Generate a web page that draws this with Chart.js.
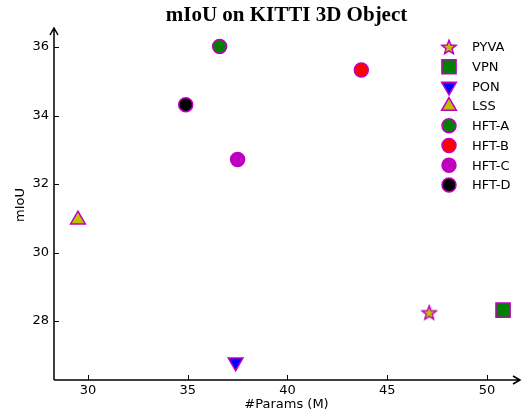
<!DOCTYPE html>
<html>
<head>
<meta charset="utf-8">
<script src="https://cdn.jsdelivr.net/npm/chart.js@4.4.1/dist/chart.umd.min.js"></script>
<style>
  html, body { margin: 0; padding: 0; background: #fff; }
  #wrap { width: 522px; height: 414px; }
</style>
</head>
<body>
<div id="wrap"><canvas id="chart" width="522" height="414"></canvas></div>
<script>
const methods = ['PYVA', 'VPN', 'PON', 'LSS', 'HFT-A', 'HFT-B', 'HFT-C', 'HFT-D'];
const params  = [47.1, 50.8, 37.4, 29.5, 36.6, 43.7, 37.5, 34.9];
const miou    = [28.25, 28.32, 26.8, 30.96, 36.02, 35.33, 32.72, 34.32];
const xTicks  = [30, 35, 40, 45, 50];
const yTicks  = [28, 30, 32, 34, 36];

const EDGE = '#bf00bf';
const fills  = ['#bfbf00', '#008000', '#0000ff', '#bfbf00', '#008000', '#ff0000', '#bf00bf', '#000000'];
const shapes = ['star', 'rect', 'tri-down', 'triangle', 'circle', 'circle', 'circle', 'circle'];

// filled five-point star, chart.js "star" is only a cross
function makeStar(fill) {
  const c = document.createElement('canvas');
  c.width = 18; c.height = 18;
  const g = c.getContext('2d');
  g.beginPath();
  for (let i = 0; i < 10; i++) {
    const r = i % 2 ? 3.2 : 7.5;
    const a = -Math.PI / 2 + i * Math.PI / 5;
    const px = 9 + r * Math.cos(a), py = 9.6 + r * Math.sin(a);
    i ? g.lineTo(px, py) : g.moveTo(px, py);
  }
  g.closePath();
  g.fillStyle = fill; g.fill();
  g.strokeStyle = EDGE; g.lineWidth = 1.4; g.stroke();
  return c;
}
const starImg = makeStar(fills[0]);

function styleFor(i) {
  const s = shapes[i];
  if (s === 'star') return { pointStyle: starImg, radius: 8, rotation: 0 };
  if (s === 'rect') return { pointStyle: 'rect', radius: 10, rotation: 0 };
  if (s === 'tri-down') return { pointStyle: 'triangle', radius: 8.5, rotation: 180 };
  if (s === 'triangle') return { pointStyle: 'triangle', radius: 8.5, rotation: 0 };
  return { pointStyle: 'circle', radius: 7, rotation: 0 };
}

const datasets = methods.map((m, i) => {
  const st = styleFor(i);
  return {
    label: m,
    data: [{ x: params[i], y: miou[i] }],
    backgroundColor: fills[i],
    borderColor: EDGE,
    borderWidth: 1.5,
    pointStyle: st.pointStyle,
    pointRadius: st.radius,
    pointHoverRadius: st.radius,
    pointRotation: st.rotation,
    clip: false
  };
});

function marker(ctx, i, x, y) {
  const st = styleFor(i);
  ctx.save();
  ctx.fillStyle = fills[i];
  ctx.strokeStyle = EDGE;
  ctx.lineWidth = 1.5;
  ctx.translate(x, y);
  ctx.rotate(st.rotation * Math.PI / 180);
  const r = st.radius;
  ctx.beginPath();
  if (st.pointStyle === starImg) {
    ctx.drawImage(starImg, -9, -9);
    ctx.restore();
    return;
  } else if (st.pointStyle === 'rect') {
    const h = r * Math.SQRT1_2;
    ctx.rect(-h, -h, 2 * h, 2 * h);
  } else if (st.pointStyle === 'triangle') {
    ctx.moveTo(0, -r);
    ctx.lineTo(r * Math.sin(Math.PI / 3), r / 2);
    ctx.lineTo(-r * Math.sin(Math.PI / 3), r / 2);
    ctx.closePath();
  } else {
    ctx.arc(0, 0, r, 0, Math.PI * 2);
  }
  ctx.fill();
  ctx.stroke();
  ctx.restore();
}

const axesPlugin = {
  id: 'axes',
  afterDraw(chart) {
    const { ctx, chartArea: a, scales } = chart;
    ctx.save();
    ctx.strokeStyle = '#000';
    ctx.lineWidth = 1.5;
    ctx.beginPath();
    ctx.moveTo(a.left, a.bottom); ctx.lineTo(a.left, a.top - 2);
    ctx.moveTo(a.left, a.bottom); ctx.lineTo(a.right + 1, a.bottom);
    // arrow heads
    ctx.moveTo(a.left - 4, a.top + 5); ctx.lineTo(a.left, a.top - 2); ctx.lineTo(a.left + 4, a.top + 5);
    ctx.moveTo(a.right - 6, a.bottom - 4); ctx.lineTo(a.right + 1, a.bottom); ctx.lineTo(a.right - 6, a.bottom + 4);
    ctx.stroke();
    ctx.lineWidth = 1;
    ctx.beginPath();
    xTicks.forEach(v => {
      const px = Math.round(scales.x.getPixelForValue(v)) + 0.5;
      ctx.moveTo(px, a.bottom); ctx.lineTo(px, a.bottom - 5);
    });
    yTicks.forEach(v => {
      const py = Math.round(scales.y.getPixelForValue(v)) + 0.5;
      ctx.moveTo(a.left, py); ctx.lineTo(a.left + 5, py);
    });
    ctx.stroke();
    ctx.restore();
  }
};

const legendPlugin = {
  id: 'cornerLegend',
  afterDatasetsDraw(chart) {
    const ctx = chart.ctx;
    ctx.save();
    ctx.font = '13px "DejaVu Sans"';
    ctx.fillStyle = '#000';
    ctx.textBaseline = 'middle';
    methods.forEach((m, i) => {
      const y = 47 + i * 19.7;
      marker(ctx, i, 449, y);
      ctx.fillStyle = '#000';
      ctx.fillText(m, 472, y + 1);
    });
    ctx.restore();
  }
};

new Chart(document.getElementById('chart'), {
  type: 'scatter',
  data: { datasets },
  plugins: [axesPlugin, legendPlugin],
  options: {
    responsive: false,
    animation: false,
    layout: { autoPadding: false, padding: { left: 0, right: 3, top: 0, bottom: 0 } },
    plugins: {
      legend: { display: false },
      tooltip: { enabled: false },
      title: {
        display: true,
        fullSize: false,
        text: 'mIoU on KITTI 3D Object',
        color: '#000',
        font: { family: '"Liberation Serif", "Times New Roman", serif', size: 21, weight: 'bold', lineHeight: 1.2 },
        padding: { top: 3, bottom: 1.8 }
      }
    },
    scales: {
      x: {
        type: 'linear',
        min: 28.3,
        max: 51.6,
        afterFit(s) { s.height = 34; s.paddingLeft = 0; s.paddingRight = 0; },
        afterBuildTicks(s) { s.ticks = xTicks.map(v => ({ value: v })); },
        grid: { display: false, drawTicks: false },
        border: { display: false },
        ticks: { color: '#000', padding: 3, font: { family: '"DejaVu Sans"', size: 13 } },
        title: { display: true, text: '#Params (M)', color: '#000', padding: { top: 0, bottom: 2 }, font: { family: '"DejaVu Sans"', size: 13 } }
      },
      y: {
        type: 'linear',
        min: 26.28,
        max: 36.5,
        afterFit(s) { s.width = 54; s.paddingTop = 0; s.paddingBottom = 0; },
        afterBuildTicks(s) { s.ticks = yTicks.map(v => ({ value: v })); },
        grid: { display: false, drawTicks: false },
        border: { display: false },
        ticks: { color: '#000', padding: 5, font: { family: '"DejaVu Sans"', size: 13 } },
        title: { display: true, text: 'mIoU', color: '#000', padding: { top: 13, bottom: 0 }, font: { family: '"DejaVu Sans"', size: 13 } }
      }
    }
  }
});
</script>
</body>
</html>
